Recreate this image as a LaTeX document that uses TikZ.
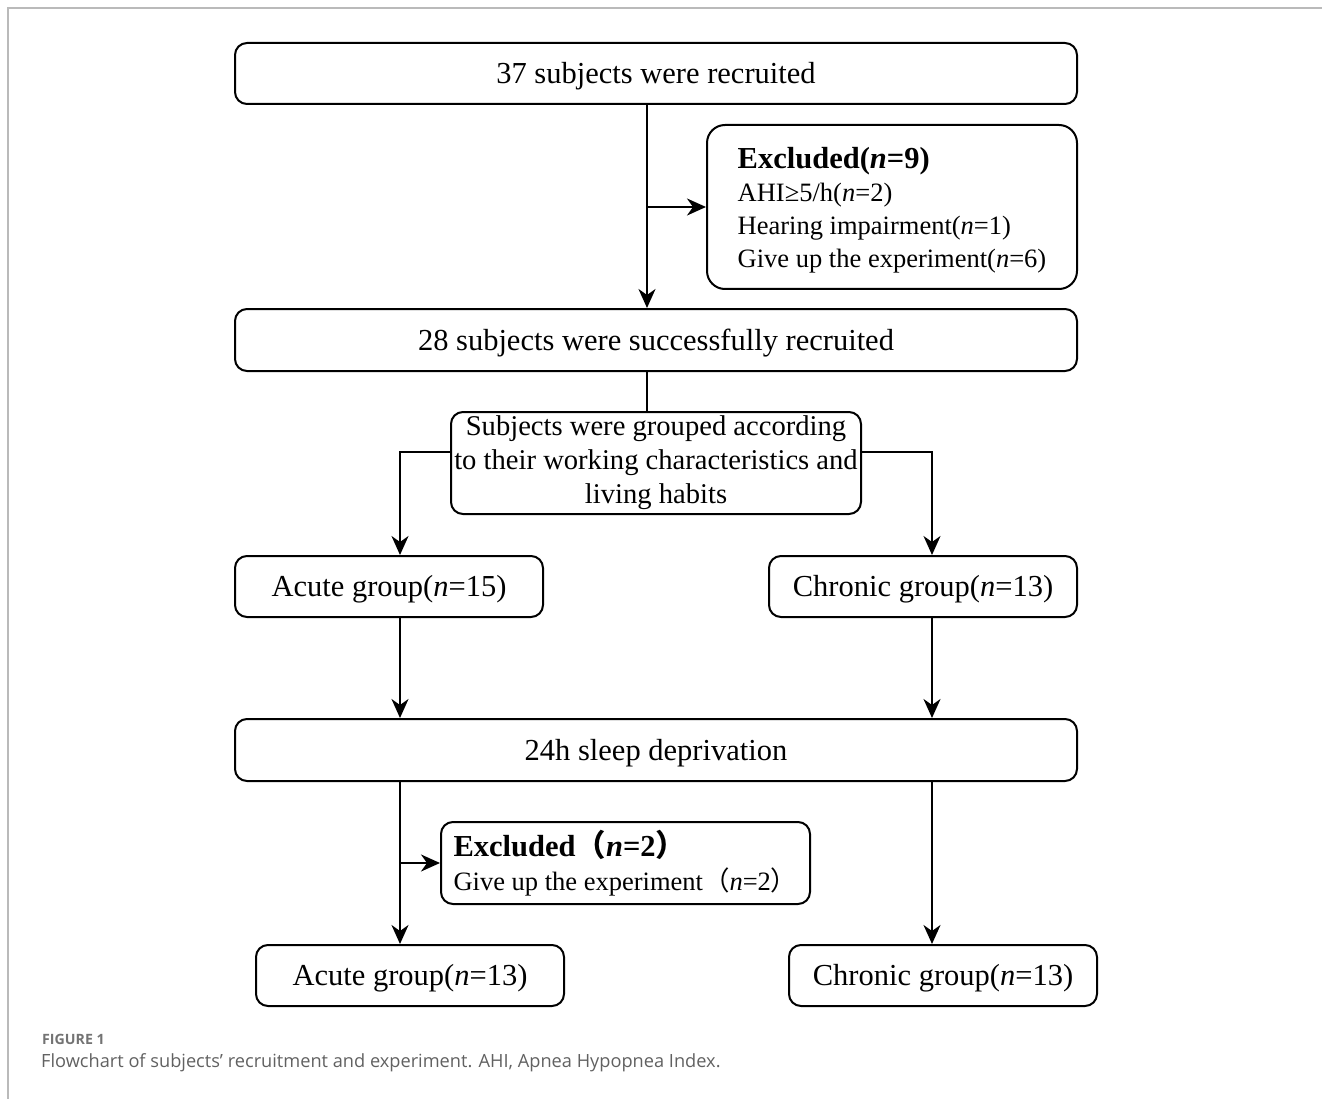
\documentclass[tikz,border=0pt]{standalone}
\usepackage{fontspec}
\setmainfont{Liberation Serif}
\newfontfamily\capfont{Open Sans}
\newfontfamily\cjk{Noto Sans CJK SC}
\usetikzlibrary{arrows.meta}
\begin{document}
\begin{tikzpicture}[x=1pt,y=-1pt,
  box/.style={draw, line width=2pt, rounded corners=12pt, inner sep=0pt, align=center,
    font=\fontsize{30.5}{34}\selectfont},
  single/.style={text height=27pt, text depth=7pt},
  arr/.style={line width=2pt, -{Stealth[length=19pt,width=17pt,inset=6pt]}},
  ln/.style={line width=2pt},
  frame/.style={draw=black!27, line width=2pt},
  capt/.style={anchor=base west, inner sep=0pt, font=\capfont\fontsize{18.2}{22}\selectfont, text=black!62},
  figlab/.style={anchor=base west, inner sep=0pt, font=\capfont\bfseries\fontsize{14.2}{17}\selectfont, text=black!55}
]
\useasboundingbox (0,0) rectangle (1322,1099);
\draw[frame] (1322,8) -- (8,8) -- (8,1099);

\coordinate (mx) at (647,0);
\coordinate (lx) at (400,0);
\coordinate (rx) at (932,0);
\coordinate (gy) at (0,452);

\node[box, single, minimum width=842pt, minimum height=61pt] (b1) at (656,73.5) {37 subjects were recruited};

\node[box, rounded corners=18pt, minimum width=370pt, minimum height=164pt,
  align=left, font=\fontsize{26.5}{33}\selectfont] (ex1) at (892,207)
  {{\fontsize{30.5}{35}\selectfont\bfseries\rule{0pt}{27pt}Excluded(\textit{n}=9)}\\
   AHI≥5/h(\textit{n}=2)\\
   Hearing impairment(\textit{n}=1)\\
   Give up the experiment(\textit{n}=6)};

\node[box, single, minimum width=842pt, minimum height=62pt] (b2) at (656,340) {28 subjects were successfully recruited};

\node[box, minimum width=410pt, minimum height=102pt,
  font=\fontsize{28.6}{34}\selectfont] (grp) at (656,463)
  {Subjects were grouped according\\to their working characteristics and\\living habits};

\node[box, single, minimum width=308pt, minimum height=61pt] (a15) at (389,586.5) {Acute group(\textit{n}=15)};
\node[box, single, minimum width=308pt, minimum height=61pt] (c15) at (923,586.5) {Chronic group(\textit{n}=13)};

\node[box, single, minimum width=842pt, minimum height=62pt] (sl) at (656,750) {24h sleep deprivation};

\node[box, minimum width=369pt, minimum height=82pt, align=left,
  font=\fontsize{26.5}{34}\selectfont] (ex2) at (625.5,863)
  {{\fontsize{30.5}{34}\selectfont\bfseries Excluded{\cjk\bfseries （}\textit{n}=2{\cjk\bfseries ）}}\\
   Give up the experiment{\cjk （}\textit{n}=2{\cjk ）}};

\node[box, single, minimum width=308pt, minimum height=61pt] (a13) at (410,975.5) {Acute group(\textit{n}=13)};
\node[box, single, minimum width=308pt, minimum height=61pt] (c13) at (943,975.5) {Chronic group(\textit{n}=13)};

\draw[arr] (b1.south -| mx) -- (b2.north -| mx);
\draw[arr] (ex1.west -| mx) -- (ex1.west);
\draw[ln] (b2.south -| mx) -- (grp.north -| mx);
\draw[arr] (grp.west |- gy) -| (a15.north -| lx);
\draw[arr] (grp.east |- gy) -| (c15.north -| rx);
\draw[arr] (a15.south -| lx) -- (sl.north -| lx);
\draw[arr] (c15.south -| rx) -- (sl.north -| rx);
\draw[arr] (sl.south -| lx) -- (a13.north -| lx);
\draw[arr] (ex2.west -| lx) -- (ex2.west);
\draw[arr] (sl.south -| rx) -- (c13.north -| rx);

\node[figlab] (fig) at (42,1044) {FIGURE 1};
\node[capt] (cap) at (41,1067) {Flowchart of subjects’ recruitment and experiment. AHI, Apnea Hypopnea Index.};
\end{tikzpicture}
\end{document}
